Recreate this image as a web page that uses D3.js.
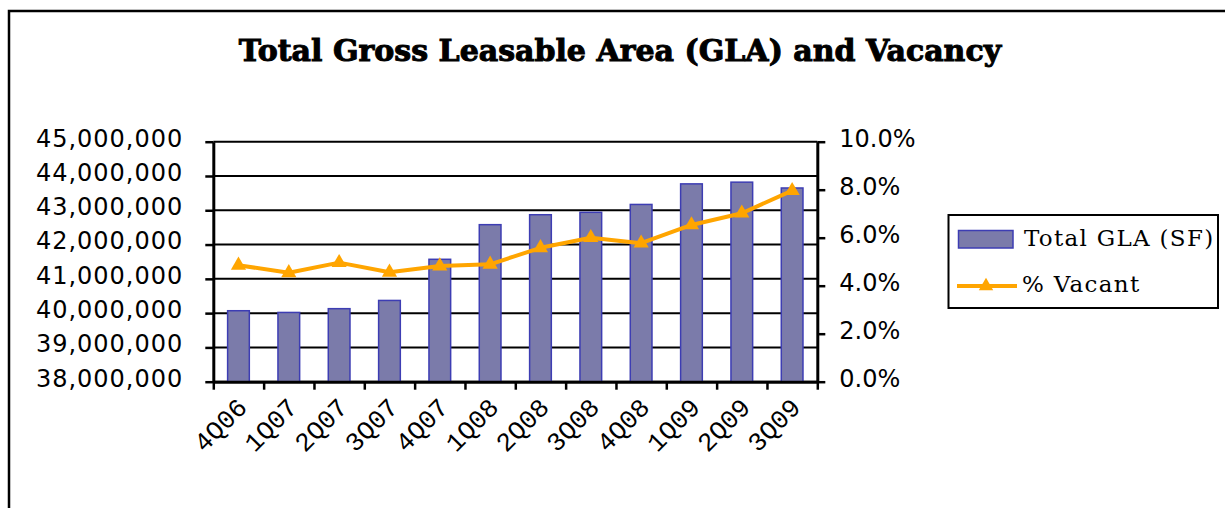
<!DOCTYPE html>
<html>
<head>
<meta charset="utf-8">
<script src="https://cdn.jsdelivr.net/npm/d3@7"></script>
<style>
  body { margin: 0; background: #fff; }
  svg { display: block; }
</style>
</head>
<body>
<svg></svg>
<script>
// data
var quarters = ["4Q06", "1Q07", "2Q07", "3Q07", "4Q07", "1Q08", "2Q08", "3Q08", "4Q08", "1Q09", "2Q09", "3Q09"];
var totalGla = [40070000, 40020000, 40130000, 40370000, 41570000, 42580000, 42870000, 42940000, 43170000, 43770000, 43820000, 43650000];
var pctVacant = [0.0485, 0.0454, 0.0496, 0.0456, 0.0482, 0.0489, 0.0558, 0.0600, 0.0577, 0.0653, 0.0702, 0.0796];
var glaTicks = [38000000, 39000000, 40000000, 41000000, 42000000, 43000000, 44000000, 45000000];
var pctTicks = [0, 0.02, 0.04, 0.06, 0.08, 0.10];
var seriesNames = ["Total GLA (SF)", "% Vacant"];
var chartTitle = "Total Gross Leasable Area (GLA) and Vacancy";

var width = 1225;
var height = 508;
// plot area (note: "top" is taken by window.top)
var pLeft = 213.3, pRight = 817.3, pTop = 141.7, pBottom = 381.7;

var barFill = "#7b7baa", barStroke = "#3d3db3", lineColor = "#ffa500";

var svg = d3.select("svg").attr("width", width).attr("height", height);

// outer frame (only top and left edges are inside the picture)
svg.append("rect")
    .attr("x", 9).attr("y", 11)
    .attr("width", 1400).attr("height", 700)
    .attr("fill", "none").attr("stroke", "#000").attr("stroke-width", 2.5);

// title
svg.append("text")
    .attr("x", 620).attr("y", 61)
    .attr("text-anchor", "middle")
    .style("font-family", "'DejaVu Serif', serif")
    .style("font-weight", "bold")
    .style("font-size", "30px")
    .attr("stroke", "#000").attr("stroke-width", 1)
    .text(chartTitle);

// scales
var xScale = d3.scaleBand().domain(quarters).range([pLeft, pRight]).padding(0);
var xEdge = d3.scaleLinear().domain([0, quarters.length]).range([pLeft, pRight]);
var yLeft = d3.scaleLinear().domain([38000000, 45000000]).range([pBottom, pTop]);
var yRight = d3.scaleLinear().domain([0, 0.10]).range([pBottom, pTop]);
var barW = 21.7;

// gridlines
svg.append("g")
    .selectAll("line")
    .data(glaTicks)
    .enter()
    .append("line")
    .attr("x1", pLeft).attr("x2", pRight)
    .attr("y1", function(d) { return yLeft(d); })
    .attr("y2", function(d) { return yLeft(d); })
    .attr("stroke", "#000").attr("stroke-width", 2);

// bars
svg.append("g")
    .selectAll("rect")
    .data(totalGla)
    .enter()
    .append("rect")
    .attr("x", function(d, i) { return xScale(quarters[i]) + (xScale.bandwidth() - barW) / 2; })
    .attr("y", function(d) { return yLeft(d); })
    .attr("width", barW)
    .attr("height", function(d) { return pBottom - yLeft(d); })
    .attr("fill", barFill)
    .attr("stroke", barStroke)
    .attr("stroke-width", 1.5);

// axes
var font = "'DejaVu Sans', Verdana, sans-serif";

var gL = svg.append("g")
    .attr("transform", "translate(" + pLeft + ",0)")
    .call(d3.axisLeft(yLeft).tickValues(glaTicks).tickSize(8).tickSizeOuter(0).tickPadding(22)
        .tickFormat(d3.format(",")));
gL.selectAll("text")
    .attr("dy", "0.18em")
    .style("font-family", font).style("font-size", "24px")
    .style("letter-spacing", "1px").attr("fill", "#000");

var gR = svg.append("g")
    .attr("transform", "translate(" + pRight + ",0)")
    .call(d3.axisRight(yRight).tickValues(pctTicks).tickSize(8).tickSizeOuter(0).tickPadding(14)
        .tickFormat(d3.format(".1%")));
gR.selectAll("text")
    .attr("dy", "0.2em")
    .style("font-family", font).style("font-size", "24px").attr("fill", "#000");

var gB = svg.append("g")
    .attr("transform", "translate(0," + pBottom + ")")
    .call(d3.axisBottom(xEdge).tickValues(d3.range(quarters.length + 1)).tickSize(8).tickSizeOuter(0)
        .tickFormat(""));

[gL, gR, gB].forEach(function(g) {
    g.select(".domain").attr("stroke", "#000").attr("stroke-width", 3);
    g.selectAll(".tick line").attr("stroke", "#000").attr("stroke-width", 2.5);
});

// rotated category labels
svg.append("g")
    .selectAll("text")
    .data(quarters)
    .enter()
    .append("text")
    .attr("transform", function(d) {
        return "translate(" + (xScale(d) + xScale.bandwidth() / 2 + 10) + ",409) rotate(-45)";
    })
    .attr("text-anchor", "end")
    .style("font-family", "'Liberation Mono', 'Courier New', monospace")
    .style("font-size", "26px")
    .text(function(d) { return d; });

// vacancy line
var line = d3.line()
    .x(function(d, i) { return xScale(quarters[i]) + xScale.bandwidth() / 2; })
    .y(function(d) { return yRight(d); });

svg.append("path")
    .datum(pctVacant)
    .attr("d", line)
    .attr("fill", "none")
    .attr("stroke", lineColor)
    .attr("stroke-width", 4)
    .attr("stroke-linejoin", "round");

svg.append("g")
    .selectAll("path")
    .data(pctVacant)
    .enter()
    .append("path")
    .attr("d", d3.symbol().type(d3.symbolTriangle).size(100))
    .attr("transform", function(d, i) {
        return "translate(" + (xScale(quarters[i]) + xScale.bandwidth() / 2) + "," + yRight(d) + ")";
    })
    .attr("fill", lineColor);

// legend
var lg = svg.append("g");
lg.append("rect")
    .attr("x", 948.5).attr("y", 215)
    .attr("width", 269.5).attr("height", 93)
    .attr("fill", "#fff").attr("stroke", "#000").attr("stroke-width", 2);
lg.append("rect")
    .attr("x", 958.5).attr("y", 230.5)
    .attr("width", 54.5).attr("height", 17.5)
    .attr("fill", barFill).attr("stroke", barStroke).attr("stroke-width", 1.5);
lg.append("line")
    .attr("x1", 957).attr("x2", 1017).attr("y1", 286).attr("y2", 286)
    .attr("stroke", lineColor).attr("stroke-width", 4);
lg.append("path")
    .attr("d", d3.symbol().type(d3.symbolTriangle).size(90))
    .attr("transform", "translate(986,286)")
    .attr("fill", lineColor);
lg.selectAll(".lgtext")
    .data(seriesNames)
    .enter()
    .append("text")
    .attr("class", "lgtext")
    .attr("x", function(d, i) { return i == 0 ? 1024 : 1022; })
    .attr("y", function(d, i) { return i == 0 ? 246 : 292; })
    .style("font-family", "'DejaVu Serif', serif")
    .style("font-size", "23px")
    .style("letter-spacing", "1.3px")
    .text(function(d) { return d; });
</script>
</body>
</html>
